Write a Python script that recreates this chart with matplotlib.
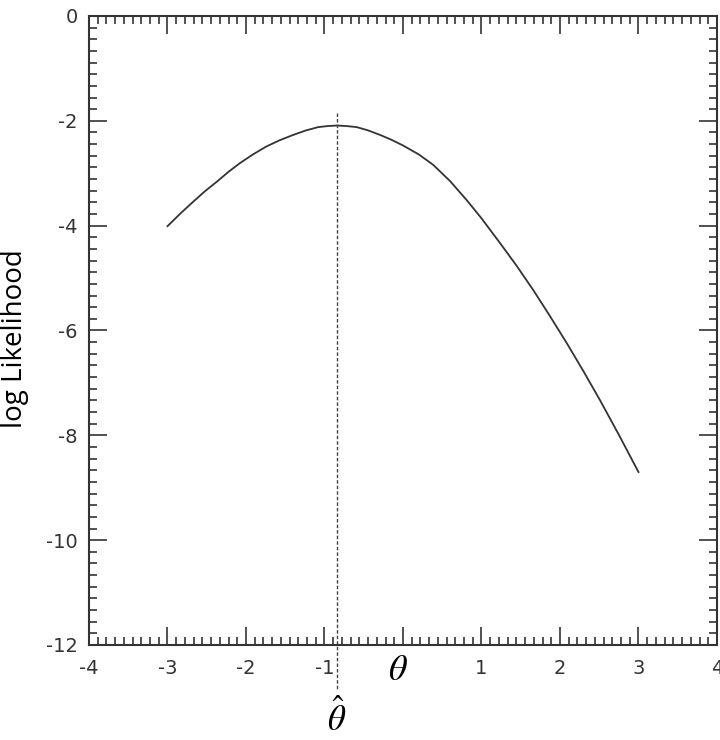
import matplotlib
matplotlib.use("Agg")
import matplotlib.pyplot as plt
from matplotlib.ticker import AutoMinorLocator

plt.rcParams['axes.unicode_minus'] = False
plt.rcParams['mathtext.fontset'] = 'stix'

theta = [-3.0, -2.83, -2.67, -2.52, -2.37, -2.22, -2.08, -1.91, -1.74, -1.57, -1.40,
         -1.24, -1.08, -0.96, -0.84, -0.72, -0.59, -0.45, -0.29, -0.15, 0.0, 0.2,
         0.385, 0.6, 0.81, 1.0, 1.24, 1.45, 1.66, 1.87, 2.09, 2.3, 2.51, 2.75, 3.0]
loglik = [-4.01, -3.76, -3.54, -3.34, -3.16, -2.97, -2.81, -2.64, -2.49, -2.37, -2.27,
          -2.185, -2.12, -2.10, -2.09, -2.10, -2.12, -2.18, -2.27, -2.36, -2.47, -2.64,
          -2.84, -3.15, -3.51, -3.86, -4.34, -4.77, -5.23, -5.72, -6.25, -6.78, -7.33,
          -7.99, -8.70]
theta_hat = -0.84
xticks = [-4, -3, -2, -1, 0, 1, 2, 3, 4]
xticklabels = ['-4', '-3', '-2', '-1', '', '1', '2', '3', '4']
yticks = [0, -2, -4, -6, -8, -10, -12]

fig = plt.figure(figsize=(7.2, 7.4), dpi=100)
ax = fig.add_axes([0.1236, 0.1284, 0.8722, 0.85])

ax.plot(theta, loglik, color='#333333', lw=1.3)
ax.plot([theta_hat, theta_hat], [-1.85, -12.86], color='#444444', lw=1.0,
        ls=(0, (2.5, 1.5)), clip_on=False)

ax.set_xlim(-4, 4)
ax.set_ylim(-12, 0)
ax.set_xticks(xticks)
ax.set_xticklabels(xticklabels)
ax.set_yticks(yticks)
ax.xaxis.set_minor_locator(AutoMinorLocator(9))
ax.yaxis.set_minor_locator(AutoMinorLocator(9))

for s in ax.spines.values():
    s.set_linewidth(1.5)
    s.set_color('#333333')

ax.tick_params(which='both', direction='in', top=True, right=True, colors='#333333')
ax.tick_params(which='major', length=13, width=1.2, labelsize=14, labelcolor='#333333')
ax.tick_params(which='minor', length=6, width=1.2)
ax.tick_params(axis='x', which='major', pad=10)
ax.tick_params(axis='y', which='major', pad=8)

fig.text(0.021, 0.542, 'log Likelihood', rotation=90, ha='center', va='center',
         fontsize=20, family='Open Sans', color='black')

ax.text(-0.06, -12.48, r'$\theta$', ha='center', va='center', fontsize=26, color='black')
ax.text(theta_hat, -13.4, r'$\hat{\theta}$', ha='center', va='center', fontsize=25,
        color='black')

fig.savefig('out.png', dpi=100)
